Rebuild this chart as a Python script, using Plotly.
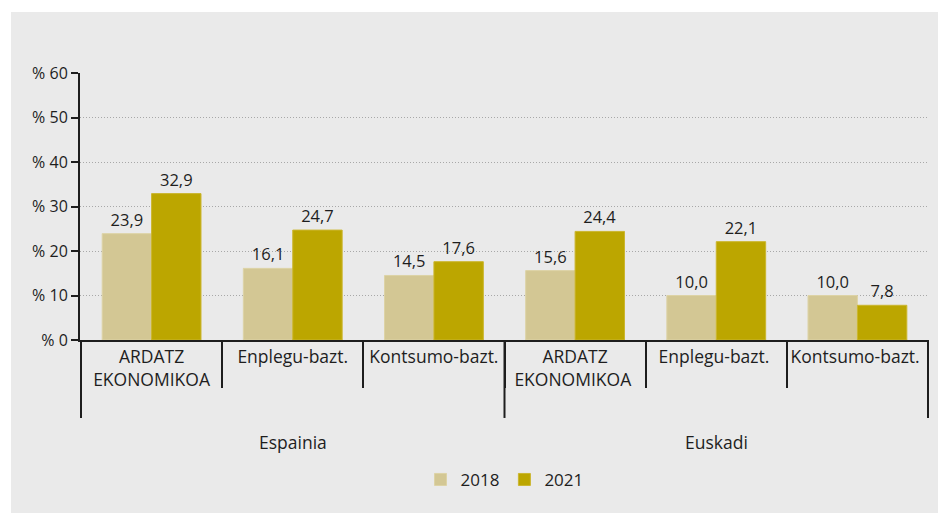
import plotly.graph_objects as go

# datuak
groups = ["Espainia", "Euskadi"]
categories = ["ARDATZ<br>EKONOMIKOA", "Enplegu-bazt.", "Kontsumo-bazt.",
              "ARDATZ<br>EKONOMIKOA ", "Enplegu-bazt. ", "Kontsumo-bazt. "]
values_2018 = [23.9, 16.1, 14.5, 15.6, 10.0, 10.0]
values_2021 = [32.9, 24.7, 17.6, 24.4, 22.1, 7.8]
tick_vals = [0, 10, 20, 30, 40, 50, 60]
tick_text = ["% 0", "% 10", "% 20", "% 30", "% 40", "% 50", "% 60"]

def fmt(v):
    return f"{v:.1f}".replace(".", ",")

font = "'Open Sans', sans-serif"
ink = "#1e1e1e"

fig = go.Figure()
fig.add_trace(go.Bar(
    x=categories, y=values_2018, name="2018",
    marker=dict(color="#d3c794", line=dict(color="#ddd3a6", width=1)),
    text=[fmt(v) for v in values_2018], textposition="outside",
    textfont=dict(size=16.5, color=ink), cliponaxis=False,
))
fig.add_trace(go.Bar(
    x=categories, y=values_2021, name="2021",
    marker=dict(color="#bca600", line=dict(color="#cbb62e", width=1)),
    text=[fmt(v) for v in values_2021], textposition="outside",
    textfont=dict(size=16.5, color=ink), cliponaxis=False,
))

# talde-banatzaileak eta talde-izenak
shapes = [dict(type="rect", xref="paper", yref="paper",
               x0=-0.0813, x1=1.1, y0=-0.8, y1=1.2285,
               fillcolor="#eaeaea", line=dict(width=0), layer="below")]
for xb in [-0.5, 2.5, 5.5]:
    shapes.append(dict(type="line", xref="x", yref="paper", x0=xb, x1=xb,
                       y0=0, y1=-0.292, line=dict(color=ink, width=2)))
annotations = []
for i, g in enumerate(groups):
    annotations.append(dict(x=1 + 3 * i, y=-0.382, xref="x", yref="paper",
                            text=g, showarrow=False, yanchor="middle",
                            font=dict(size=17.5, color=ink)))

fig.update_layout(
    width=946, height=513,
    margin=dict(l=72, r=25, t=65, b=181),
    paper_bgcolor="white",
    plot_bgcolor="#eaeaea",
    font=dict(family=font, size=16, color=ink),
    barmode="group", bargap=0.3, bargroupgap=0,
    legend=dict(orientation="h", x=0.5, xanchor="center", y=-0.524, yanchor="middle",
                font=dict(size=17), itemwidth=30, bgcolor="rgba(0,0,0,0)"),
    shapes=shapes,
    annotations=annotations,
)
fig.update_yaxes(
    range=[0, 60], tickvals=tick_vals, ticktext=tick_text,
    showgrid=True, gridcolor="#a8a8a8", griddash="1px,2px", gridwidth=1,
    showline=True, linecolor=ink, linewidth=2,
    ticks="outside", ticklen=7, tickcolor=ink, tickwidth=2,
    tickfont=dict(size=16), zeroline=False,
)
fig.update_xaxes(
    showline=True, linecolor=ink, linewidth=2,
    ticks="outside", tickson="boundaries", ticklen=46, tickcolor=ink, tickwidth=2,
    tickfont=dict(size=17.5), tickangle=0,
)

fig.write_html("out.html")
